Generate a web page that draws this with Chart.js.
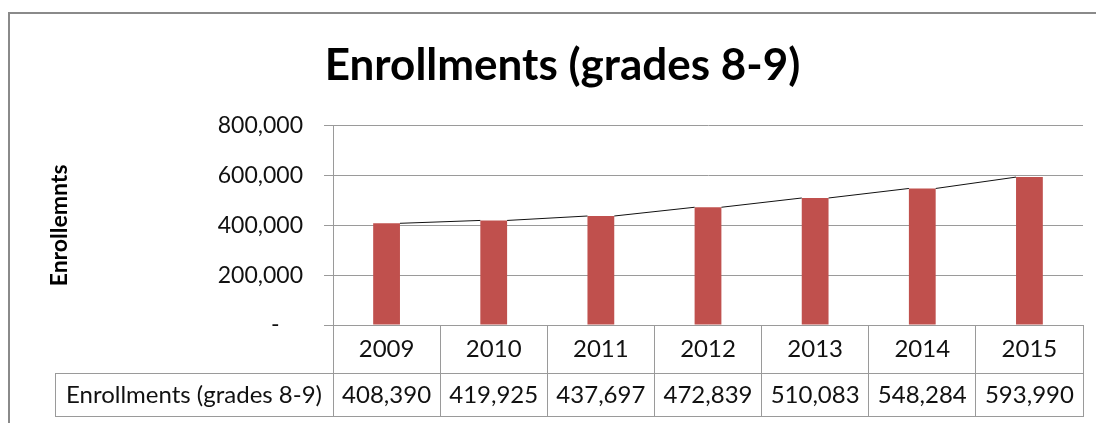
<!DOCTYPE html>
<html>
<head>
<meta charset="utf-8">
<title>Enrollments (grades 8-9)</title>
<script src="https://cdn.jsdelivr.net/npm/chart.js@4.4.0/dist/chart.umd.min.js"></script>
<style>
    html, body { margin: 0; padding: 0; background: #fff; overflow: hidden; }
    #wrap { position: relative; width: 1096px; height: 423px; }
    #frame {
        position: absolute; left: 8px; top: 12px; width: 1200px; height: 500px;
        border-left: 2px solid #8a8a8a; border-top: 2px solid #8a8a8a;
        pointer-events: none;
    }
</style>
</head>
<body>
<div id="wrap">
    <canvas id="chart" width="1096" height="423"></canvas>
    <div id="frame"></div>
</div>
<script>
// Chart data
const chartTitle = 'Enrollments (grades 8-9)';
const axisTitle = 'Enrollemnts';
const seriesName = 'Enrollments (grades 8-9)';
const years = ['2009', '2010', '2011', '2012', '2013', '2014', '2015'];
const enrollments = [408390, 419925, 437697, 472839, 510083, 548284, 593990];
const yMin = 0;
const yMax = 800000;
const yStep = 200000;

const BAR_COLOR = '#C0504D';
const LINE_COLOR = '#9a9a9a';
const TEXT_COLOR = '#111';
const FONT = 'Lato';

const fmt = v => v.toLocaleString('en-US');

// Excel style "series lines" between the tops of neighbouring bars
const seriesLines = {
    id: 'seriesLines',
    afterDatasetsDraw(chart) {
        const bars = chart.getDatasetMeta(0).data;
        const ctx = chart.ctx;
        ctx.save();
        ctx.strokeStyle = '#111';
        ctx.lineWidth = 1;
        ctx.beginPath();
        for (let i = 0; i < bars.length - 1; i++) {
            const a = bars[i], b = bars[i + 1];
            ctx.moveTo(a.x + a.width / 2, a.y);
            ctx.lineTo(b.x - b.width / 2, b.y);
        }
        ctx.stroke();
        ctx.restore();
    }
};

// Data table under the category axis (values row + row header)
const dataTable = {
    id: 'dataTable',
    afterDraw(chart) {
        const ctx = chart.ctx;
        const xs = chart.scales.x;
        const area = chart.chartArea;
        const rowTop = xs.top + 48;
        const rowBottom = xs.bottom;
        const headerLeft = 55;

        ctx.save();
        ctx.strokeStyle = LINE_COLOR;
        ctx.lineWidth = 1;
        ctx.beginPath();
        ctx.moveTo(headerLeft, rowTop + 0.5);
        ctx.lineTo(area.right, rowTop + 0.5);
        ctx.moveTo(headerLeft, rowBottom - 0.5);
        ctx.lineTo(area.right, rowBottom - 0.5);
        ctx.moveTo(headerLeft + 0.5, rowTop);
        ctx.lineTo(headerLeft + 0.5, rowBottom);
        ctx.stroke();

        ctx.fillStyle = TEXT_COLOR;
        ctx.font = '24px ' + FONT;
        ctx.textAlign = 'center';
        ctx.textBaseline = 'middle';
        const midY = (rowTop + rowBottom) / 2;
        ctx.fillText(chart.data.datasets[0].label, (headerLeft + area.left) / 2, midY);
        chart.data.datasets[0].data.forEach((v, i) => {
            ctx.fillText(fmt(v), xs.getPixelForTick(i), midY);
        });
        ctx.restore();
    }
};

new Chart(document.getElementById('chart'), {
    type: 'bar',
    data: {
        labels: years,
        datasets: [{
            label: seriesName,
            data: enrollments,
            backgroundColor: BAR_COLOR,
            borderWidth: 0,
            barPercentage: 0.25,
            categoryPercentage: 1.0
        }]
    },
    options: {
        responsive: false,
        animation: false,
        devicePixelRatio: 1,
        layout: {
            padding: { left: 42, right: 13, top: 0, bottom: 6 }
        },
        plugins: {
            legend: { display: false },
            tooltip: { enabled: false },
            title: {
                display: true,
                text: chartTitle,
                color: '#000',
                font: { family: FONT, size: 44, weight: 'bold' },
                padding: { top: 39, bottom: 34 }
            }
        },
        scales: {
            x: {
                offset: true,
                grid: {
                    display: true,
                    offset: true,
                    drawOnChartArea: false,
                    drawTicks: true,
                    tickLength: 92,
                    color: LINE_COLOR
                },
                border: { display: true, color: LINE_COLOR },
                ticks: {
                    color: TEXT_COLOR,
                    font: { family: FONT, size: 24 },
                    padding: -82,
                    maxRotation: 0
                },
                afterFit(scale) { scale.height = 92; }
            },
            y: {
                min: yMin,
                max: yMax,
                grid: {
                    color: LINE_COLOR,
                    tickLength: 9
                },
                border: { display: true, color: LINE_COLOR },
                ticks: {
                    stepSize: yStep,
                    color: TEXT_COLOR,
                    font: { family: FONT, size: 23 },
                    padding: 21,
                    callback: v => v === 0 ? '-    ' : fmt(v)
                },
                title: {
                    display: true,
                    text: axisTitle,
                    color: '#000',
                    font: { family: FONT, size: 23, weight: 'bold' }
                },
                afterFit(scale) { scale.width = 291; }
            }
        }
    },
    plugins: [seriesLines, dataTable]
});
</script>
</body>
</html>
